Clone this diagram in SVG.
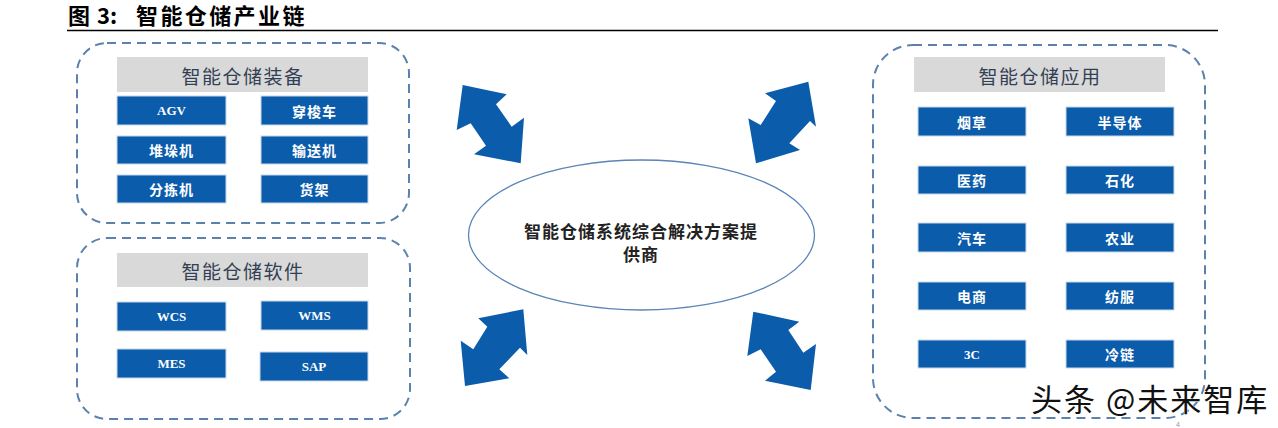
<svg xmlns="http://www.w3.org/2000/svg" width="1278" height="428" viewBox="0 0 1278 428">
<style>
.title{font-family:"Noto Sans CJK SC","Liberation Serif",serif;font-weight:bold;font-size:22px;fill:#000}
.frame{fill:none;stroke:#5b82ad;stroke-width:2;stroke-dasharray:9 6}
.hdr{fill:#d9d9d9}
.hdrt{font-family:"Noto Sans CJK SC",sans-serif;font-size:19px;fill:#333f54;text-anchor:middle;dominant-baseline:central;letter-spacing:1.5px}
.cell{fill:#0b5cab;stroke:#c7d8ec;stroke-width:1}
.ct{font-family:"Noto Sans CJK SC",sans-serif;font-weight:bold;font-size:14px;fill:#fff;text-anchor:middle;dominant-baseline:central;letter-spacing:1px}
.lt{font-family:"Liberation Serif",serif;font-weight:bold;font-size:13px;fill:#fff;text-anchor:middle;dominant-baseline:central}
.arrow{fill:#0b5cab}
.et{font-family:"Noto Sans CJK SC",sans-serif;font-weight:600;font-size:17px;fill:#222;text-anchor:middle;dominant-baseline:central;letter-spacing:1px}
.wm{font-family:"Noto Sans CJK SC",sans-serif;font-size:31px;fill:#111;stroke:#fff;stroke-width:1;paint-order:stroke;letter-spacing:2px}
</style>
<rect width="1278" height="428" fill="#fff"/>
<g id="title">
<text class="title" x="68" y="24">图</text>
<text class="title" x="97" y="24" font-family="Liberation Serif,serif">3:</text>
<text class="title" x="136" y="24" letter-spacing="2.4">智能仓储产业链</text>
<line x1="67" y1="30.5" x2="1218" y2="30.5" stroke="#000" stroke-width="1.5"/>
</g>
<g id="equipment">
<rect class="frame" x="77" y="43" width="332" height="180" rx="30"/>
<rect class="hdr" x="117" y="57" width="251" height="35"/>
<text class="hdrt" x="243" y="75">智能仓储装备</text>
<rect class="cell" x="117" y="96" width="109" height="29"/><text class="lt" x="171.5" y="110.5">AGV</text>
<rect class="cell" x="261" y="96" width="107" height="29"/><text class="ct" x="314.5" y="110.5">穿梭车</text>
<rect class="cell" x="117" y="136" width="109" height="28"/><text class="ct" x="171.5" y="150">堆垛机</text>
<rect class="cell" x="261" y="136" width="107" height="28"/><text class="ct" x="314.5" y="150">输送机</text>
<rect class="cell" x="117" y="175" width="109" height="28"/><text class="ct" x="171.5" y="189">分拣机</text>
<rect class="cell" x="261" y="175" width="107" height="28"/><text class="ct" x="314.5" y="189">货架</text>
</g>
<g id="software">
<rect class="frame" x="77" y="238" width="333" height="181" rx="30"/>
<rect class="hdr" x="117" y="253" width="251" height="34"/>
<text class="hdrt" x="243" y="270">智能仓储软件</text>
<rect class="cell" x="117" y="302" width="109" height="29"/><text class="lt" x="171.5" y="316.5">WCS</text>
<rect class="cell" x="261" y="301" width="107" height="29"/><text class="lt" x="314.5" y="315.5">WMS</text>
<rect class="cell" x="117" y="349" width="109" height="29"/><text class="lt" x="171.5" y="363.5">MES</text>
<rect class="cell" x="260" y="352" width="108" height="29"/><text class="lt" x="314" y="366.5">SAP</text>
</g>
<g id="applications">
<rect class="frame" x="873" y="45" width="332" height="373" rx="40"/>
<rect class="hdr" x="914" y="57" width="251" height="35"/>
<text class="hdrt" x="1040" y="75">智能仓储应用</text>
<rect class="cell" x="918" y="107" width="108" height="29"/><text class="ct" x="972" y="121.5">烟草</text>
<rect class="cell" x="1066" y="107" width="108" height="29"/><text class="ct" x="1120" y="121.5">半导体</text>
<rect class="cell" x="918" y="166" width="108" height="28"/><text class="ct" x="972" y="180">医药</text>
<rect class="cell" x="1066" y="166" width="108" height="28"/><text class="ct" x="1120" y="180">石化</text>
<rect class="cell" x="918" y="223" width="108" height="29"/><text class="ct" x="972" y="237.5">汽车</text>
<rect class="cell" x="1066" y="223" width="108" height="29"/><text class="ct" x="1120" y="237.5">农业</text>
<rect class="cell" x="918" y="282" width="108" height="28"/><text class="ct" x="972" y="296">电商</text>
<rect class="cell" x="1066" y="282" width="108" height="28"/><text class="ct" x="1120" y="296">纺服</text>
<rect class="cell" x="918" y="340" width="108" height="28"/><text class="lt" x="972" y="354">3C</text>
<rect class="cell" x="1066" y="340" width="108" height="28"/><text class="ct" x="1120" y="354">冷链</text>
</g>
<g id="provider">
<ellipse cx="641.5" cy="235" rx="173" ry="75" fill="#fff" stroke="#5b84b8" stroke-width="1.3"/>
<text class="et" x="641" y="230">智能仓储系统综合解决方案提</text>
<text class="et" x="641" y="253">供商</text>
</g>
<g id="connectors">
<polygon class="arrow" points="462.7,85 506.7,94.3 496,104.3 511.7,126.7 524,117.7 520.7,163.3 474,154.3 486,145.7 470.7,123.3 456.7,130"/>
<polygon class="arrow" points="808.3,81.7 816,126.7 810,121 789.3,143.3 800,150 756,163.3 748.3,118.3 760.7,125 776,101 765,93.3"/>
<polygon class="arrow" points="523.3,309.3 527.3,355 520,347.7 499.3,369.3 509.3,378.3 465,386 460.7,340.7 473.3,349.3 487.3,326.7 478.3,318.3"/>
<polygon class="arrow" points="753.3,311.7 799.3,321.7 788.3,330 803.3,352.7 816,344 810.7,390 765,380.7 776,371.7 760.7,349.3 747.3,356"/>
</g>
<g id="watermark">
<text class="wm" x="1031" y="411">头条 @未来智库</text>
<text x="1178" y="427" font-family="Liberation Sans,sans-serif" font-size="7" fill="#999" text-anchor="middle">4</text>
</g>
</svg>
